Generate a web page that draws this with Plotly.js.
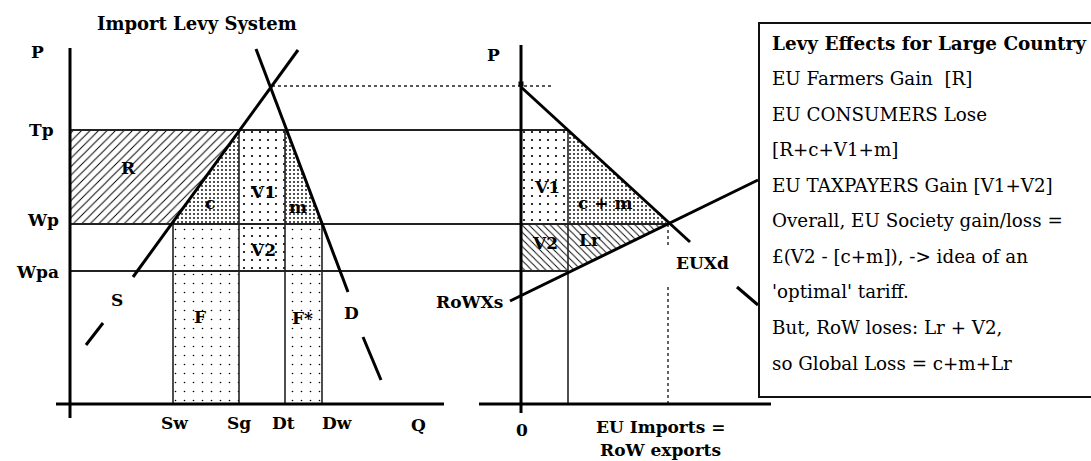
<!DOCTYPE html>
<html><head><meta charset="utf-8">
<script src="https://cdn.plot.ly/plotly-3.0.1.min.js"></script>
<style>html,body{margin:0;padding:0;background:#fff}</style>
</head><body><div id="chart" style="width:1091px;height:461px"></div>
<script>
// ---------- DATA (P and Q in chart units) ----------
const priceNames = ['Tp', 'Wp', 'Wpa'];
const priceLevels = [27.4, 18.0, 13.3];
const equilibriumQty = 20.2;
const equilibriumPrice = 31.8;

const qtyNames = ['Sw', 'Sg', 'Dt', 'Dw'];
const qtyLevels = [10.3, 16.9, 21.5, 25.2];

const supplyQ = [22.8, 6.3];
const supplyP = [35.4, 12.7];
const supplyTailQ = [3.3, 1.6];
const supplyTailP = [8.1, 5.9];

const demandQ = [18.6, 27.8];
const demandP = [35.5, 11.2];
const demandTailQ = [29.3, 31.1];
const demandTailP = [6.7, 2.4];

const importNames = ['Mt', 'Mw'];
const importLevels = [4.7, 14.7];
const euxdM = [0, 16.9];
const euxdP = [31.7, 16.2];
const euxdTailM = [21.6, 23.7];
const euxdTailP = [11.7, 9.9];
const rowxsM = [-1.1, 23.7];
const rowxsP = [10.3, 22.4];
const dottedEndM = 3.2;

const boxTitle = 'Levy Effects for Large Country';
const boxLines = [
  'EU Farmers Gain&nbsp;&nbsp;[R]',
  'EU CONSUMERS Lose',
  '[R+c+V1+m]',
  'EU TAXPAYERS Gain [V1+V2]',
  'Overall, EU Society gain/loss =',
  '£(V2 - [c+m]), -&gt; idea of an',
  "'optimal' tariff.",
  'But, RoW loses: Lr + V2,',
  'so Global Loss = c+m+Lr'
];

// ---------- LAYOUT CONSTANTS ----------
const W = 1091, H = 461;
const X0 = 45.1;               // origin of the import panel on the shared axis
const SERIF = 'DejaVu Serif';

const [Tp, Wp, Wpa] = priceLevels;
const [Sw, Sg, Dt, Dw] = qtyLevels;
const [Mt, Mw] = importLevels;
const R = m => m + X0;         // import-panel quantity to shared axis

const traces = [];
function seg(x, y, w, dash, color) {
  traces.push({type: 'scatter', mode: 'lines', x: x, y: y, hoverinfo: 'skip',
    line: {color: color || '#000', width: w || 3, dash: dash || 'solid'}});
}
function poly(x, y, pat) {
  traces.push({type: 'scatter', mode: 'lines', x: x.concat([x[0]]), y: y.concat([y[0]]),
    fill: 'toself', fillcolor: '#fff', line: {width: 0}, hoverinfo: 'skip',
    fillpattern: Object.assign({fgcolor: '#000', bgcolor: '#fff'}, pat)});
}

const hatchFwd = {shape: '/', size: 6, solidity: 0.16};
const hatchBack = {shape: '\\', size: 5, solidity: 0.18};
const fineDots = {shape: '.', size: 4, solidity: 0.16};
const carets = {shape: '.', size: 8, solidity: 0.06};
const sparseDots = {shape: '.', size: 9, solidity: 0.025};

// left panel regions
poly([Sw, Sg, Sg, Sw], [Wp, Wp, 0, 0], sparseDots);            // F
poly([Dt, Dw, Dw, Dt], [Wp, Wp, 0, 0], sparseDots);            // F*
poly([0, Sg, Sw, 0], [Tp, Tp, Wp, Wp], hatchFwd);              // R
poly([Sw, Sg, Sg], [Wp, Tp, Wp], fineDots);                    // c
poly([Sg, Dt, Dt, Sg], [Tp, Tp, Wp, Wp], carets);              // V1
poly([Dt, Dt, Dw], [Tp, Wp, Wp], fineDots);                    // m
poly([Sg, Dt, Dt, Sg], [Wp, Wp, Wpa, Wpa], carets);            // V2
// import panel regions
poly([R(0), R(Mt), R(Mt), R(0)], [Tp, Tp, Wp, Wp], carets);    // V1
poly([R(Mt), R(Mt), R(Mw)], [Tp, Wp, Wp], fineDots);           // c+m
poly([R(0), R(Mt), R(Mt), R(0)], [Wp, Wp, Wpa, Wpa], hatchBack); // V2
poly([R(Mt), R(Mw), R(Mt)], [Wp, Wp, Wpa], hatchBack);         // Lr

// price lines
seg([0, R(Mt)], [Tp, Tp], 1.8, 'solid', '#222');
seg([0, R(Mw)], [Wp, Wp], 1.8, 'solid', '#222');
seg([0, R(Mt)], [Wpa, Wpa], 1.8, 'solid', '#222');
seg([equilibriumQty, R(dottedEndM)], [equilibriumPrice, equilibriumPrice], 1.4, 'dot', '#222');
// vertical quantity lines
seg([Sw, Sw], [Wp, 0], 1.6, 'solid', '#222');
seg([Sg, Sg], [Tp, 0], 1.6, 'solid', '#222');
seg([Dt, Dt], [Tp, 0], 1.6, 'solid', '#222');
seg([Dw, Dw], [Wp, 0], 1.6, 'solid', '#222');
seg([R(Mt), R(Mt)], [Tp, 0], 1.6, 'solid', '#222');
seg([R(Mw), R(Mw)], [Wp, 15.9], 1.4, 'dot', '#222');
seg([R(Mw), R(Mw)], [11.7, 0], 1.4, 'dot', '#222');

// axes
seg([-1.4, 37.4], [0, 0], 3);
seg([0, 0], [-1.4, 35.6], 3);
seg([R(-4.2), R(25.0)], [0, 0], 3);
seg([R(0), R(0)], [-0.9, 35.9], 3);

// curves
seg(supplyQ, supplyP, 3);
seg(supplyTailQ, supplyTailP, 3);
seg(demandQ, demandP, 3);
seg(demandTailQ, demandTailP, 3);
seg(euxdM.map(R), euxdP, 3);
seg(euxdTailM.map(R), euxdTailP, 3);
seg(rowxsM.map(R), rowxsP, 3);
traces.push({type: 'scatter', mode: 'markers', x: [R(0)], y: [euxdP[0] + 0.3], hoverinfo: 'skip',
  marker: {symbol: 'square', size: 5, color: '#000'}});

// ---------- ANNOTATIONS ----------
const ann = [];
function lab(x, y, t, size, opts) {
  ann.push(Object.assign({x: x, y: y, xref: 'x', yref: 'y', text: '<b>' + t + '</b>', showarrow: false,
    xanchor: 'center', yanchor: 'middle', font: {family: SERIF, size: size || 17, color: '#000'}}, opts || {}));
}
// price labels
lab(-2.9, Tp, priceNames[0]);
lab(-2.7, Wp + 0.4, priceNames[1]);
lab(-3.3, Wpa - 0.1, priceNames[2]);
lab(-3.3, 35.2, 'P');
lab(R(-2.8), 34.9, 'P');
// quantity labels
const qShift = [0.1, 0, -0.2, 1.5];
qtyNames.forEach((n, i) => lab(qtyLevels[i] + qShift[i], -1.9, n));
lab(34.8, -2.1, 'Q');
lab(R(0.1), -2.6, '0');
lab(R(13.9), -2.3, 'EU Imports =');
lab(R(13.9), -4.6, 'RoW exports');
// curve labels
lab(4.7, 10.4, 'S');
lab(28.1, 9.1, 'D');
lab(R(-1.6), 10.2, 'RoWXs', 17, {xanchor: 'right'});
lab(R(18.1), 14.1, 'EUXd');
// region labels
lab(5.8, 23.6, 'R');
lab(14.0, 20.1, 'c');
lab(19.3, 21.2, 'V1');
lab(22.8, 19.7, 'm');
lab(19.3, 15.4, 'V2');
lab(13.0, 8.7, 'F');
lab(23.2, 8.6, 'F*');
lab(R(2.6), 21.7, 'V1');
lab(R(8.4), 20.1, 'c + m');
lab(R(2.4), 16.1, 'V2');
lab(R(6.9), 16.4, 'Lr');

// title
ann.push({x: 197 / W, y: 1 - 24 / H, xref: 'paper', yref: 'paper', showarrow: false,
  text: '<b>Import Levy System</b>', xanchor: 'center', yanchor: 'middle',
  font: {family: SERIF, size: 18, color: '#000'}});

// text box
const boxLeft = 770, boxTop = 43, lineStep = 35.56;
ann.push({x: boxLeft / W, y: 1 - boxTop / H, xref: 'paper', yref: 'paper', showarrow: false,
  text: '<b>' + boxTitle + '</b>', xanchor: 'left', yanchor: 'middle',
  font: {family: SERIF, size: 18.4, color: '#000'}});
boxLines.forEach((t, i) => ann.push({x: boxLeft / W, y: 1 - (boxTop + lineStep * (i + 1)) / H,
  xref: 'paper', yref: 'paper', showarrow: false, text: t, xanchor: 'left', yanchor: 'middle',
  font: {family: SERIF, size: 18.3, color: '#000'}}));

const shapes = [{type: 'rect', xref: 'paper', yref: 'paper', x0: 759 / W, x1: 1100 / W,
  y0: 1 - 397 / H, y1: 1 - 23 / H, line: {color: '#111', width: 2}, fillcolor: 'rgba(0,0,0,0)'}];

Plotly.newPlot('chart', traces, {
  width: W, height: H, margin: {l: 0, r: 0, t: 0, b: 0},
  paper_bgcolor: '#fff', plot_bgcolor: '#fff', showlegend: false,
  xaxis: {range: [-7.0, 102.1], visible: false, fixedrange: true},
  yaxis: {range: [-5.7, 40.4], visible: false, fixedrange: true},
  annotations: ann, shapes: shapes
}, {staticPlot: true, displayModeBar: false});
</script></body></html>
